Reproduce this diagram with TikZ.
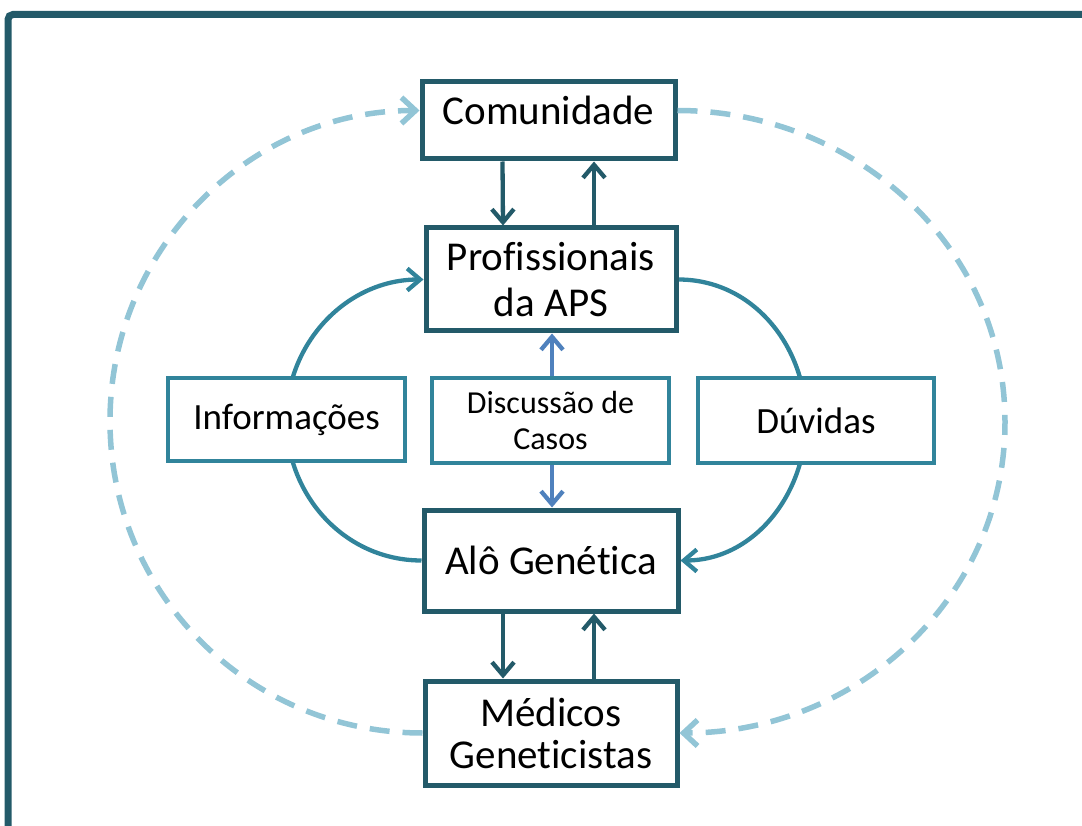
\documentclass[tikz,border=0pt]{standalone}
\usepackage{fontspec}
\setmainfont{Carlito}[Ligatures=NoCommon]
\usetikzlibrary{arrows.meta,backgrounds}
\definecolor{framec}{HTML}{235A69}
\definecolor{darkteal}{HTML}{235A69}
\definecolor{midteal}{HTML}{31849B}
\definecolor{discblue}{HTML}{4F81BD}
\definecolor{dashc}{HTML}{92C5D6}
\begin{document}
\begin{tikzpicture}[x=1pt,y=-1pt,
  box/.style={draw=darkteal,line width=5pt,fill=white,inner sep=0pt,align=center,text=black},
  lbox/.style={draw=midteal,line width=4.5pt,fill=white,inner sep=0pt,align=center,text=black},
  big/.style={font=\fontsize{41}{46}\selectfont},
  midf/.style={font=\fontsize{37}{44}\selectfont},
  smallf/.style={font=\fontsize{32}{36}\selectfont},
  darr/.style={draw=darkteal,line width=4.3pt,-{Straight Barb[length=13pt,width=22pt]}},
  carr/.style={draw=midteal,line width=4.3pt,-{Straight Barb[length=13pt,width=22pt]}},
  barr/.style={draw=discblue,line width=4.3pt,-{Straight Barb[length=13pt,width=22pt]}},
  dasharr/.style={draw=dashc,line width=5.5pt,dash pattern=on 20pt off 13pt,-{Straight Barb[length=14pt,width=26pt]}},
]
\useasboundingbox (0,0) rectangle (1082,826);
\draw[framec,line width=7pt,rounded corners=5pt] (8,826) -- (8,14.5) -- (1082,14.5);

\node[box,big,minimum width=253pt,minimum height=77pt,text depth=21pt] (com) at (548.5,120.5) {Comunidade};
\node[box,big,minimum width=250pt,minimum height=103pt] (prof) at (551,279.5) {Profissionais\\da APS};
\node[lbox,midf,minimum width=237pt,minimum height=83pt] (info) at (286.5,419.5) {Informações};
\node[lbox,smallf,minimum width=237pt,minimum height=85pt] (disc) at (550.5,420.5) {Discussão de\\Casos};
\node[lbox,midf,minimum width=236pt,minimum height=85pt] (duv) at (816,420.5) {Dúvidas};
\node[box,big,minimum width=254pt,minimum height=101pt] (alo) at (551,560.5) {Alô Genética};
\node[box,big,minimum width=252pt,minimum height=104pt] (med) at (551,733) {Médicos\\[-4pt]Geneticistas};

\coordinate (dl) at (110,421);
\coordinate (dr) at (1005,422);

\begin{scope}[on background layer]
\draw[carr] (alo.west) to[out=180,in=-90] (info.center) to[out=90,in=180] (prof.west);
\draw[carr] (prof.east) to[out=0,in=90] ([xshift=-10pt]duv.center) to[out=-90,in=0] (alo.east);
\end{scope}

\draw[darr] ([xshift=-46pt]com.south) -- ([xshift=-48pt]prof.north);
\draw[darr] ([xshift=43pt]prof.north) -- ([xshift=45.5pt]com.south);
\draw[darr] ([xshift=-48pt]alo.south) -- ([xshift=-48pt]med.north);
\draw[darr] ([xshift=43pt]med.north) -- ([xshift=43pt]alo.south);
\draw[barr] ([xshift=1.5pt]disc.north) -- ([xshift=1pt]prof.south);
\draw[barr] ([xshift=1.5pt]disc.south) -- ([xshift=1pt]alo.north);

\draw[dasharr] (med.west) to[out=180,in=-90] (dl) to[out=90,in=180] ([yshift=10pt]com.west);
\draw[dasharr] ([yshift=10pt]com.east) to[out=0,in=90] (dr) to[out=-90,in=0] (med.east);
\end{tikzpicture}
\end{document}
